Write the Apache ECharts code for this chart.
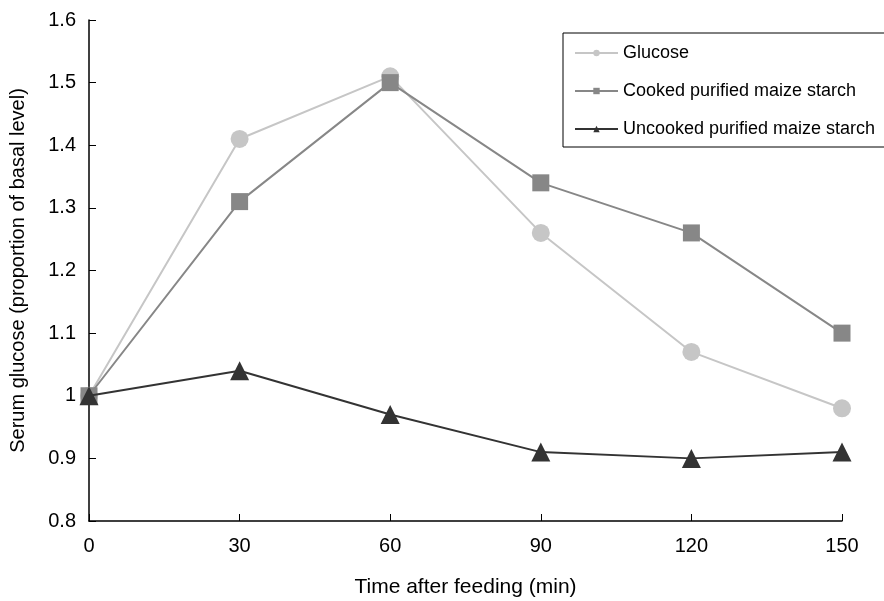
<!DOCTYPE html>
<html><head><meta charset="utf-8">
<script src="https://cdn.jsdelivr.net/npm/echarts@6/dist/echarts.min.js"></script>
<style>html,body{margin:0;padding:0;background:#fff}#c{width:884px;height:601px}</style>
</head><body><div id="c"></div>
<script>
const times = [0, 30, 60, 90, 120, 150];
const glucose = [1.00, 1.41, 1.51, 1.26, 1.07, 0.98];
const cooked = [1.00, 1.31, 1.50, 1.34, 1.26, 1.10];
const uncooked = [1.00, 1.04, 0.97, 0.91, 0.90, 0.91];
const seriesNames = ['Glucose', 'Cooked purified maize starch', 'Uncooked purified maize starch'];
const colors = ['#c6c6c6', '#878787', '#333333'];

const pair = (arr) => times.map((t, i) => [t, arr[i]]);
const font = 'Liberation Sans, Arial, sans-serif';
const chart = echarts.init(document.getElementById('c'));
chart.setOption({
  animation: false,
  grid: {left: 89, right: 42, top: 20, bottom: 80, containLabel: false, outerBoundsMode: 'none'},
  legend: {
    left: 563, top: 33, orient: 'vertical',
    borderColor: '#000', borderWidth: 1, borderRadius: 0,
    padding: [11, 40, 9, 11], itemGap: 20,
    itemWidth: 43, itemHeight: 8,
    textStyle: {fontFamily: font, fontSize: 18, color: '#000'},
    data: seriesNames
  },
  xAxis: {
    type: 'value', min: 0, max: 150, interval: 30,
    name: 'Time after feeding (min)', nameLocation: 'middle', nameGap: 56,
    nameTextStyle: {fontFamily: font, fontSize: 21, color: '#000'},
    axisLine: {lineStyle: {color: '#000', width: 1.5}},
    axisTick: {inside: true, length: 7, lineStyle: {color: '#000'}},
    axisLabel: {fontFamily: font, fontSize: 20, color: '#000', margin: 15},
    splitLine: {show: false}
  },
  yAxis: {
    type: 'value', min: 0.8, max: 1.6, interval: 0.1,
    name: 'Serum glucose (proportion of basal level)', nameLocation: 'middle', nameGap: 61,
    nameTextStyle: {fontFamily: font, fontSize: 20, color: '#000'},
    axisLine: {show: true, lineStyle: {color: '#000', width: 1.5}},
    axisTick: {show: true, inside: true, length: 7, lineStyle: {color: '#000'}},
    axisLabel: {fontFamily: font, fontSize: 20, color: '#000', margin: 13,
      formatter: v => (Math.round(v * 10) / 10).toString()},
    splitLine: {show: false}
  },
  series: [
    {name: seriesNames[0], type: 'line', data: pair(glucose), symbol: 'circle', symbolSize: 18,
     lineStyle: {color: colors[0], width: 2}, itemStyle: {color: colors[0]}, z: 2},
    {name: seriesNames[1], type: 'line', data: pair(cooked), symbol: 'rect', symbolSize: 17,
     lineStyle: {color: colors[1], width: 2}, itemStyle: {color: colors[1]}, z: 3},
    {name: seriesNames[2], type: 'line', data: pair(uncooked), symbol: 'triangle', symbolSize: 19,
     lineStyle: {color: colors[2], width: 2}, itemStyle: {color: colors[2]}, z: 4}
  ]
});
</script></body></html>
